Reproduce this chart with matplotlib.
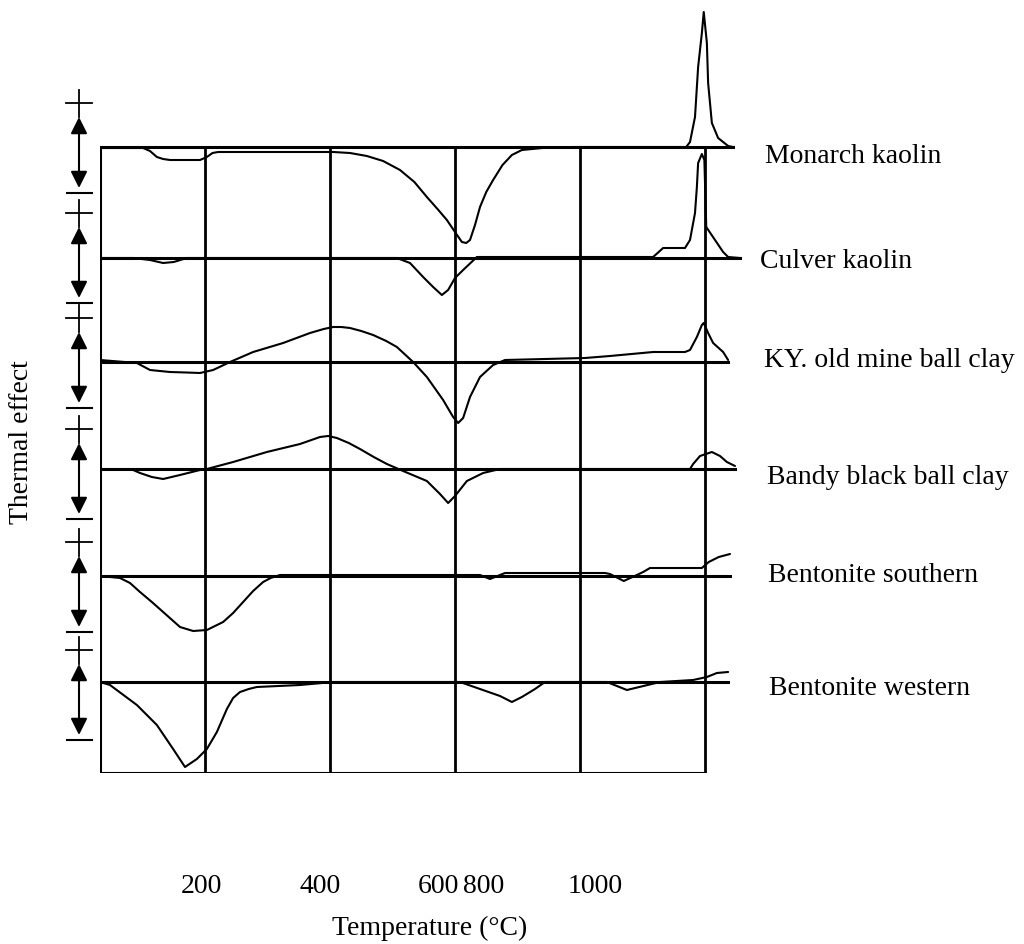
import matplotlib
matplotlib.use('Agg')
import matplotlib.pyplot as plt

plt.rcParams['font.family'] = ['Liberation Serif', 'DejaVu Serif']

# DTA curves: temperature (C) and thermal effect (arbitrary units, endo < 0)
names = ['Monarch kaolin', 'Culver kaolin', 'KY. old mine ball clay',
         'Bandy black ball clay', 'Bentonite southern', 'Bentonite western']

temp_monarch = [32, 101, 112, 123, 133, 144, 192, 203, 212, 221, 405, 432, 459, 485, 512, 535,
                555, 572, 587, 600, 611, 618, 624, 632, 640, 650, 661, 676, 691, 707, 740, 792,
                970, 976, 984, 989, 995, 998, 1003, 1005, 1011, 1021, 1029, 1037, 1045]
effect_monarch = [-0.1, -0.1, -0.4, -1.0, -1.2, -1.3, -1.3, -1.0, -0.6, -0.5, -0.5, -0.6, -0.9,
                  -1.4, -2.3, -3.5, -5.0, -6.2, -7.3, -8.5, -9.5, -9.6, -9.3, -7.8, -6.0, -4.5,
                  -3.3, -1.8, -0.8, -0.3, -0.1, 0.0, 0.0, 0.5, 3.0, 8.0, 11.4, 13.5, 10.4, 6.4,
                  2.4, 0.9, 0.5, 0.1, 0.0]

temp_culver = [32, 85, 112, 133, 150, 171, 507, 528, 549, 565, 579, 589, 600, 613, 635, 917,
               933, 968, 976, 984, 987, 989, 995, 999, 1002, 1029, 1037, 1056]
effect_culver = [0.0, 0.0, -0.2, -0.5, -0.4, 0.0, 0.0, -0.5, -1.9, -2.9, -3.7, -3.2, -2.0, -1.2,
                 0.1, 0.1, 1.0, 1.0, 1.8, 4.5, 7.1, 9.5, 10.4, 9.8, 3.1, 0.6, 0.1, 0.0]

temp_ky = [32, 91, 112, 144, 170, 192, 213, 240, 277, 325, 368, 390, 405, 418, 432, 450, 469,
           490, 507, 533, 555, 581, 597, 605, 613, 624, 640, 661, 680, 808, 848, 917, 968, 976,
           987, 995, 998, 1005, 1013, 1029, 1037]
effect_ky = [0.2, -0.1, -0.8, -1.0, -1.05, -1.1, -0.8, 0.0, 1.0, 1.9, 2.9, 3.3, 3.5, 3.5, 3.4,
             3.1, 2.7, 2.1, 1.5, 0.0, -1.5, -3.8, -5.5, -6.1, -5.6, -3.5, -1.5, -0.3, 0.2, 0.4,
             0.6, 1.0, 1.0, 1.2, 2.5, 3.7, 3.9, 2.9, 1.9, 1.0, 0.2]

temp_bandy = [32, 85, 96, 115, 133, 160, 192, 203, 245, 299, 352, 384, 397, 411, 430, 448, 470,
              491, 517, 555, 576, 589, 600, 619, 645, 672, 976, 981, 992, 1011, 1024, 1035, 1048]
effect_bandy = [0.0, -0.1, -0.4, -0.8, -1.0, -0.6, -0.1, 0.0, 0.7, 1.7, 2.5, 3.2, 3.3, 3.1, 2.6,
                2.0, 1.2, 0.5, -0.2, -1.2, -2.5, -3.4, -2.7, -1.2, -0.4, 0.0, 0.0, 0.5, 1.3, 1.7,
                1.3, 0.7, 0.3]

temp_south = [32, 64, 80, 96, 115, 133, 160, 181, 203, 229, 245, 261, 277, 293, 305, 320, 640,
              656, 680, 840, 848, 870, 891, 901, 912, 995, 1006, 1022, 1040]
effect_south = [0.0, -0.2, -0.7, -1.6, -2.6, -3.6, -5.1, -5.5, -5.4, -4.6, -3.7, -2.6, -1.5, -0.6,
                -0.2, 0.1, 0.1, -0.3, 0.3, 0.3, 0.2, -0.5, 0.1, 0.4, 0.8, 0.8, 1.4, 1.9, 2.2]

temp_west = [32, 48, 91, 123, 149, 168, 187, 203, 219, 235, 245, 256, 270, 283, 352, 405, 608,
             640, 672, 691, 707, 728, 744, 843, 875, 928, 981, 1003, 1019, 1037]
effect_west = [0.0, -0.3, -2.3, -4.3, -6.7, -8.5, -7.7, -6.7, -5.0, -2.7, -1.6, -1.0, -0.7, -0.5,
               -0.3, 0.0, 0.0, -0.7, -1.4, -2.0, -1.5, -0.7, 0.0, 0.0, -0.8, 0.0, 0.2, 0.5, 0.9,
               1.0]

temps = [temp_monarch, temp_culver, temp_ky, temp_bandy, temp_south, temp_west]
effects = [effect_monarch, effect_culver, effect_ky, effect_bandy, effect_south, effect_west]

grid_temps = [200, 400, 600, 800, 1000]
tick_pos = [195, 384, 573, 645, 824]
tick_labels = ['200', '400', '600', '800', '1000']

# layout
t_start, t_end = 32, 1000
offsets = [62.6, 51.5, 41.1, 30.4, 19.7, 9.1]
plus_marks = [67.0, 56.0, 45.5, 34.4, 23.1, 12.3]
label_y_px = [163, 268, 367, 484, 582, 695]
label_x_px = [765, 760, 764, 767, 768, 769]
fs = 20

fig = plt.figure(figsize=(10.24, 9.44), dpi=100)
ax = fig.add_axes([100 / 1024, 171 / 944, 650 / 1024, 773 / 944])
ax.set_xlim(t_start, t_start + 650 * 1.6)
ax.set_ylim(0, 77.3)

# frame and grid
ax.plot([t_start, t_start], [0, offsets[0]], color='black', lw=2.2)
ax.plot([t_start, t_end], [0, 0], color='black', lw=2.2)
for g in grid_temps:
    ax.plot([g, g], [0, offsets[0]], color='black', lw=2.0)

# baselines and curves
for t, e, off in zip(temps, effects, offsets):
    ax.plot([t_start, t[-1]], [off, off], color='black', lw=2.2)
    ax.plot(t, [off + v for v in e], color='black', lw=1.5,
            solid_joinstyle='round', solid_capstyle='round')

# +/- scale arrows on the left
ax_x = -1.6
for p in plus_marks:
    m = p - 9.0
    ax.plot([ax_x, ax_x], [p + 1.3, p - 1.4], color='black', lw=1.3, clip_on=False)
    ax.plot([ax_x - 21, ax_x + 20], [p, p], color='black', lw=1.3, clip_on=False)
    ax.plot([ax_x - 20, ax_x + 20], [m, m], color='black', lw=1.5, clip_on=False)
    ax.annotate('', xy=(ax_x, m + 0.5), xytext=(ax_x, p - 1.4),
                arrowprops=dict(arrowstyle='<|-|>,head_length=0.5,head_width=0.25',
                                color='black', lw=1.5, mutation_scale=20,
                                shrinkA=0, shrinkB=0),
                annotation_clip=False)

for s in ax.spines.values():
    s.set_visible(False)
ax.set_yticks([])
ax.set_xticks(tick_pos, labels=tick_labels)
ax.tick_params(axis='x', length=0, pad=73, labelsize=fs)

for name, x, y in zip(names, label_x_px, label_y_px):
    fig.text(x / 1024, 1 - y / 944, name, fontsize=fs, ha='left', va='baseline')

fig.text(22 / 1024, 1 - 442 / 944, 'Thermal effect', rotation=90, fontsize=fs,
         ha='center', va='center')
fig.text(430 / 1024, 1 - 935 / 944, 'Temperature (°C)', fontsize=fs,
         ha='center', va='baseline')

fig.savefig('out.png', dpi=100)
